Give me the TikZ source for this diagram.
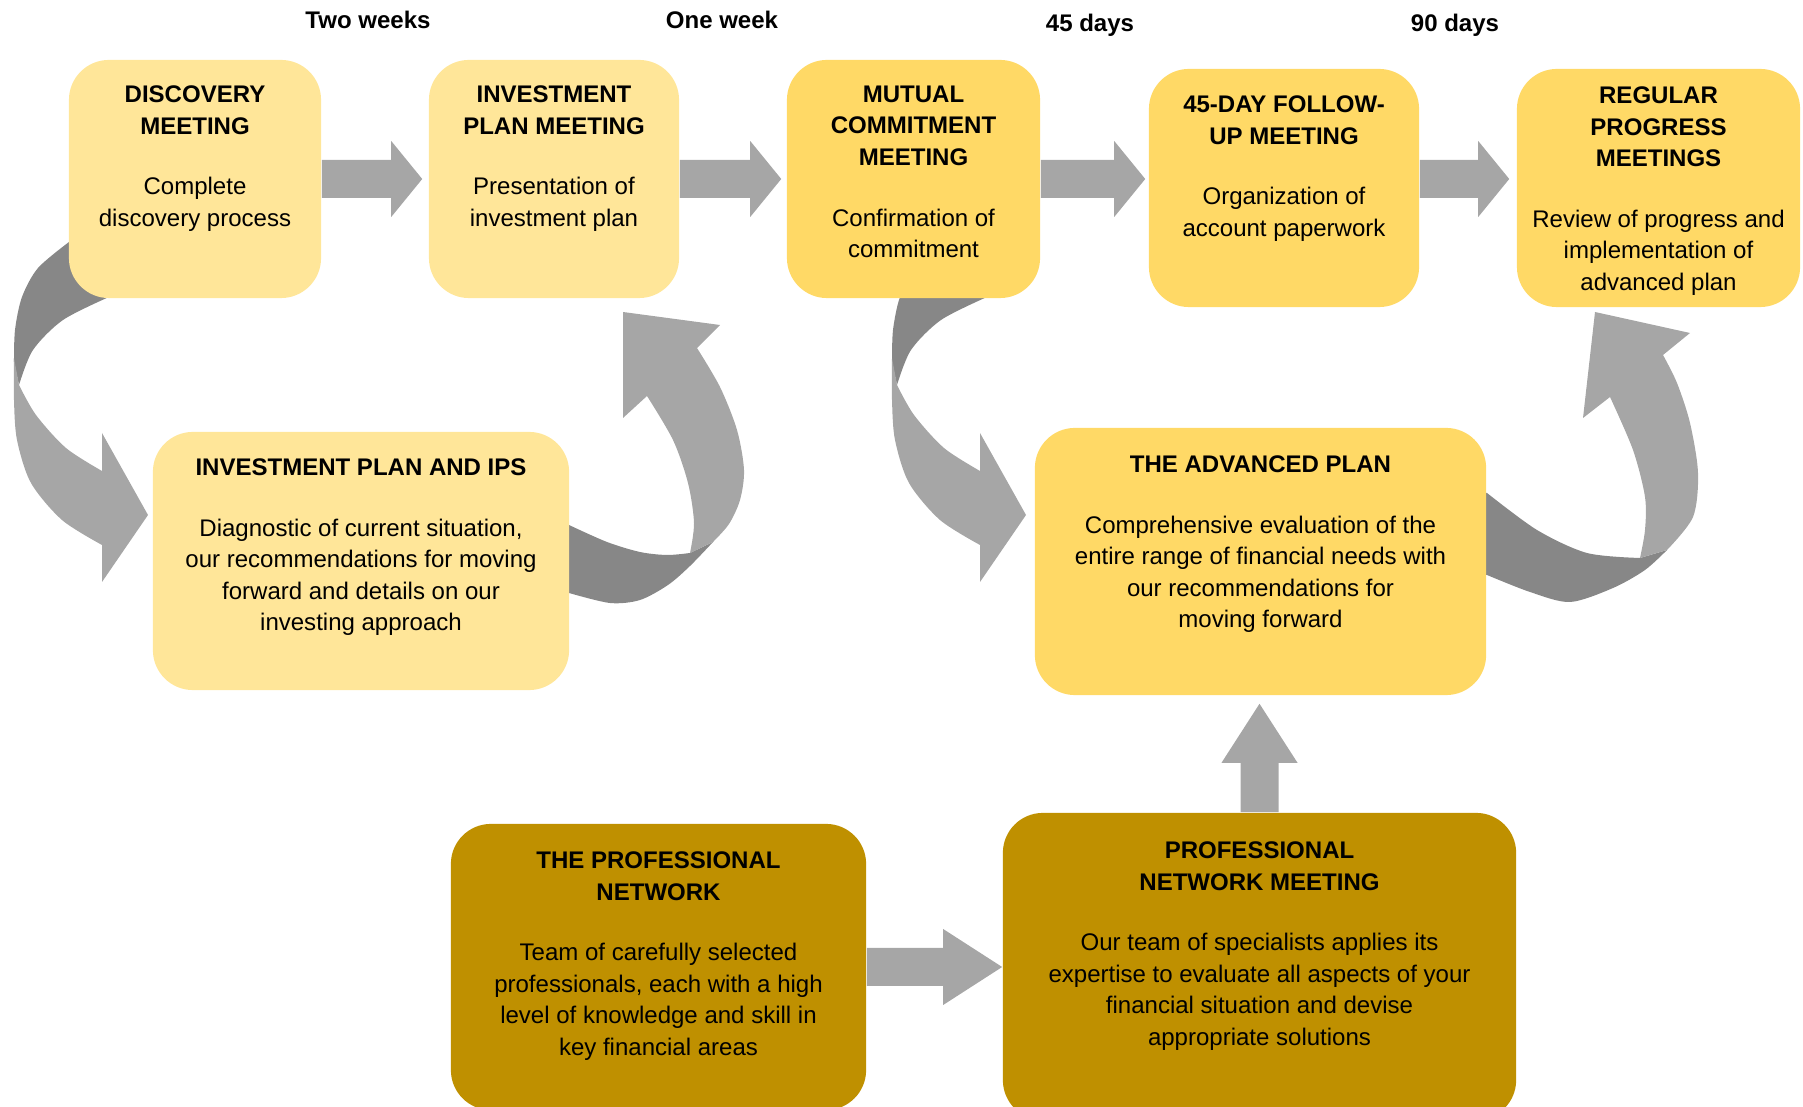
\documentclass[tikz,border=0pt]{standalone}
\usepackage{fontspec}
\setmainfont{Liberation Sans}
\usetikzlibrary{positioning,calc}
\definecolor{jauneclair}{HTML}{FFE699}
\definecolor{jaune}{HTML}{FFD966}
\definecolor{dore}{HTML}{BF9000}
\definecolor{gris}{HTML}{A6A6A6}
\definecolor{grisfonce}{HTML}{878787}
\tikzset{
  boite/.style={rectangle, rounded corners=0.4cm, inner sep=0pt},
  texte/.style={align=center, inner sep=0pt},
  temps/.style={anchor=base, inner sep=0pt},
  fleche/.style={fill=gris},
  revers/.style={fill=grisfonce}
}
% fleche droite : [longueur de tete] depart, pointe
\newcommand\harrow[3][31]{%
  \fill[fleche] ($(#2)+(0,-19)$) -- ($(#3)+(-#1,-19)$) -- ($(#3)+(-#1,-38)$) -- (#3)
    -- ($(#3)+(-#1,38)$) -- ($(#3)+(-#1,19)$) -- ($(#2)+(0,19)$) -- cycle;}
% fleche vers le haut
\newcommand\varrow[3][59]{%
  \fill[fleche] ($(#2)+(-19,0)$) -- ($(#3)+(-19,#1)$) -- ($(#3)+(-38,#1)$) -- (#3)
    -- ($(#3)+(38,#1)$) -- ($(#3)+(19,#1)$) -- ($(#2)+(19,0)$) -- cycle;}
% boucle vers le bas
\newcommand\boucle{%
  \fill[revers] (130,270) -- (80,236)
    -- plot[smooth] coordinates {(69,242) (38,268) (22,297) (15,330) (14,362)} -- (19,385)
    -- plot[smooth] coordinates {(19,385) (33,350) (63,320) (109,297)} -- cycle;
  \fill[fleche] plot[smooth] coordinates {(14,358) (14,400) (17,440) (31,483) (62,520) (102,545)}
    -- (102,582) -- (148,515) -- (102,433) -- (102,471)
    -- plot[smooth] coordinates {(102,471) (66,448) (36,415) (19,385)} -- cycle;}
\begin{document}
\begin{tikzpicture}[x=0.01cm, y=-0.01cm, font=\fontsize{6.83}{8.96}\selectfont]
\useasboundingbox (0,0) rectangle (1803,1107);
\clip (0,0) rectangle (1803,1107);
% Fleches courbes
\boucle
\begin{scope}[shift={(878,0)}]
\boucle
\end{scope}
\fill[revers] (560,525)
  -- plot[smooth] coordinates {(569,525) (607,542) (640,552) (667,555) (690,553)} -- (713,542)
  -- plot[smooth] coordinates {(713,542) (690,566) (668,585) (640,600) (610,603) (569,593)} -- (560,593) -- cycle;
\fill[fleche] plot[smooth] coordinates {(713,542) (729,524) (740,500) (744,470) (737,430) (720,387) (697,348)}
  -- (720,325) -- (623,312) -- (623,418) -- (647,396)
  -- plot[smooth] coordinates {(647,396) (673,440) (688,483) (694,523) (690,553)} -- cycle;
\fill[revers] (1478,493)
  -- plot[smooth] coordinates {(1487,493) (1537,530) (1587,553) (1640,558)} -- (1667,550)
  -- plot[smooth] coordinates {(1667,550) (1645,570) (1613,588) (1570,602) (1530,592) (1487,575)} -- (1478,575) -- cycle;
\fill[fleche] plot[smooth] coordinates {(1667,550) (1693,517) (1698,473) (1690,423) (1677,383) (1663,355)}
  -- (1690,333) -- (1595,312) -- (1583,418) -- (1610,397)
  -- plot[smooth] coordinates {(1610,397) (1633,450) (1645,497) (1645,530) (1640,558)} -- cycle;
% Boites
\node[boite, fill=jauneclair, minimum width=2.52cm, minimum height=2.38cm] (disc) at (195,179) {};
\node[boite, fill=jauneclair, minimum width=2.50cm, minimum height=2.38cm] (inv) at (554,179) {};
\node[boite, fill=jaune, minimum width=2.53cm, minimum height=2.38cm] (mut) at (913.5,179) {};
\node[boite, fill=jaune, minimum width=2.70cm, minimum height=2.38cm] (fu) at (1284,188) {};
\node[boite, fill=jaune, minimum width=2.83cm, minimum height=2.38cm] (reg) at (1658.5,188) {};
\node[boite, fill=jauneclair, minimum width=4.16cm, minimum height=2.58cm] (ips) at (361,561) {};
\node[boite, fill=jaune, minimum width=4.51cm, minimum height=2.67cm] (adv) at (1260.5,561.5) {};
\node[boite, fill=dore, minimum width=4.15cm, minimum height=2.86cm] (pn) at (658.5,967) {};
\node[boite, fill=dore, minimum width=5.13cm, minimum height=3.07cm] (pnm) at (1259.5,966.5) {};
% Textes
\node[texte, below=0.26cm of disc.north] (disc-t) {\textbf{DISCOVERY}\\\textbf{MEETING}\\[0.29cm]Complete\\discovery process};
\node[texte, below=0.26cm of inv.north] (inv-t) {\textbf{INVESTMENT}\\\textbf{PLAN MEETING}\\[0.29cm]Presentation of\\investment plan};
\node[texte, below=0.26cm of mut.north] (mut-t) {\textbf{MUTUAL}\\\textbf{COMMITMENT}\\\textbf{MEETING}\\[0.29cm]Confirmation of\\commitment};
\node[texte, below=0.27cm of fu.north] (fu-t) {\textbf{45-DAY FOLLOW-}\\\textbf{UP MEETING}\\[0.29cm]Organization of\\account paperwork};
\node[texte, below=0.18cm of reg.north] (reg-t) {\textbf{REGULAR}\\\textbf{PROGRESS}\\\textbf{MEETINGS}\\[0.29cm]Review of progress and\\implementation of\\advanced plan};
\node[texte, below=0.27cm of ips.north] (ips-t) {\textbf{INVESTMENT PLAN AND IPS}\\[0.29cm]Diagnostic of current situation,\\our recommendations for moving\\forward and details on our\\investing approach};
\node[texte, below=0.28cm of adv.north] (adv-t) {\textbf{THE ADVANCED PLAN}\\[0.29cm]Comprehensive evaluation of the\\entire range of financial needs with\\our recommendations for\\moving forward};
\node[texte, below=0.28cm of pn.north] (pn-t) {\textbf{THE PROFESSIONAL}\\\textbf{NETWORK}\\[0.29cm]Team of carefully selected\\professionals, each with a high\\level of knowledge and skill in\\key financial areas};
\node[texte, below=0.29cm of pnm.north] (pnm-t) {\textbf{PROFESSIONAL}\\\textbf{NETWORK MEETING}\\[0.29cm]Our team of specialists applies its\\expertise to evaluate all aspects of your\\financial situation and devise\\appropriate solutions};
% Delais
\node[temps] (t1) at (368,29) {\textbf{Two weeks}};
\node[temps] (t2) at (722,29) {\textbf{One week}};
\node[temps] (t3) at (1090,32) {\textbf{45 days}};
\node[temps] (t4) at (1455,32) {\textbf{90 days}};
% Fleches
\coordinate (a1) at ($(inv.west)+(-6,0)$);
\harrow{disc.east}{a1}
\coordinate (a2) at ($(mut.west)+(-5,0)$);
\harrow{inv.east}{a2}
\coordinate (a3) at ($(fu.west |- mut.east)+(-3,0)$);
\harrow{mut.east}{a3}
\coordinate (a4s) at (fu.east |- mut.east);
\coordinate (a4) at ($(reg.west |- mut.east)+(-7,0)$);
\harrow{a4s}{a4}
\coordinate (a5) at (pnm.west |- pn.east);
\harrow[59]{pn.east}{a5}
\coordinate (a6) at ($(adv.south -| pnm.north)+(0,8)$);
\varrow{pnm.north}{a6}
\end{tikzpicture}
\end{document}
